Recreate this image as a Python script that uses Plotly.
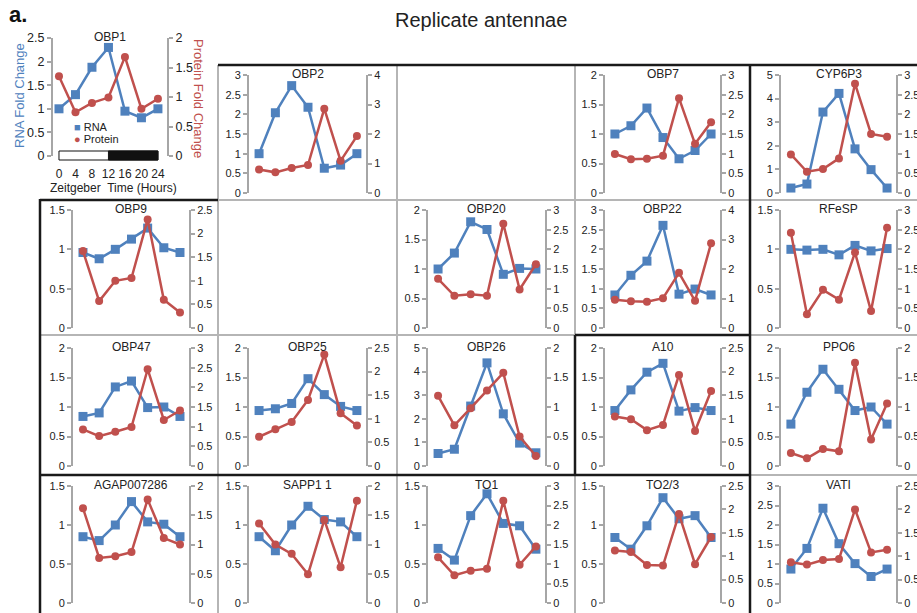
import plotly.graph_objects as go

W, H = 917, 613

# ---------------- data ----------------
hours = [0, 4, 8, 12, 16, 20, 24]
hour_labels = ["0", "4", "8", "12", "16", "20", "24"]

gene_names = ["OBP1", "OBP2", "OBP7", "CYP6P3", "OBP9", "OBP20", "OBP22", "RFeSP",
              "OBP47", "OBP25", "OBP26", "A10", "PPO6", "AGAP007286", "SAPP1 1",
              "TO1", "TO2/3", "VATI"]

rna_obp1 = [1.00, 1.30, 1.88, 2.30, 0.95, 0.81, 1.00]
prot_obp1 = [1.35, 0.74, 0.90, 0.99, 1.68, 0.80, 0.97]
rna_obp2 = [1.00, 2.04, 2.73, 2.18, 0.63, 0.71, 1.00]
prot_obp2 = [0.80, 0.70, 0.85, 0.95, 2.86, 1.09, 1.93]
rna_obp7 = [1.00, 1.14, 1.44, 0.94, 0.58, 0.72, 1.00]
prot_obp7 = [0.99, 0.86, 0.87, 0.95, 2.41, 1.25, 1.80]
rna_cyp6p3 = [0.21, 0.38, 3.43, 4.22, 1.87, 0.99, 0.21]
prot_cyp6p3 = [0.98, 0.54, 0.61, 0.88, 2.78, 1.50, 1.43]
rna_obp9 = [0.96, 0.88, 1.00, 1.13, 1.27, 1.02, 0.96]
prot_obp9 = [1.63, 0.57, 1.00, 1.06, 2.30, 0.60, 0.33]
rna_obp20 = [1.00, 1.27, 1.80, 1.67, 0.91, 1.01, 1.00]
prot_obp20 = [1.25, 0.82, 0.86, 0.82, 2.65, 0.98, 1.62]
rna_obp22 = [0.84, 1.34, 1.70, 2.61, 0.86, 0.99, 0.84]
prot_obp22 = [0.96, 0.91, 0.89, 1.01, 1.87, 0.92, 2.87]
rna_rfesp = [1.00, 0.99, 1.00, 0.93, 1.05, 0.98, 1.01]
prot_rfesp = [2.42, 0.35, 0.97, 0.72, 1.92, 0.43, 2.55]
rna_obp47 = [0.84, 0.90, 1.34, 1.44, 0.99, 1.00, 0.84]
prot_obp47 = [0.93, 0.76, 0.87, 0.99, 2.46, 1.17, 1.41]
rna_obp25 = [0.94, 0.97, 1.06, 1.48, 1.21, 1.01, 0.94]
prot_obp25 = [0.62, 0.78, 0.93, 1.40, 2.36, 1.12, 0.86]
rna_obp26 = [0.53, 0.71, 2.54, 4.37, 2.21, 0.97, 0.56]
prot_obp26 = [1.19, 0.69, 0.98, 1.28, 1.58, 0.50, 0.17]
rna_a10 = [0.94, 1.29, 1.59, 1.74, 0.93, 0.99, 0.94]
prot_a10 = [1.05, 0.99, 0.76, 0.87, 1.93, 0.74, 1.59]
rna_ppo6 = [0.71, 1.25, 1.64, 1.30, 0.94, 1.00, 0.71]
prot_ppo6 = [0.22, 0.13, 0.29, 0.25, 1.75, 0.45, 1.06]
rna_agap007286 = [0.85, 0.80, 1.00, 1.30, 1.04, 1.01, 0.85]
prot_agap007286 = [1.62, 0.77, 0.80, 0.87, 1.77, 1.11, 1.00]
rna_sapp1 = [0.85, 0.67, 1.00, 1.24, 1.07, 1.04, 0.85]
prot_sapp1 = [1.36, 1.00, 0.84, 0.49, 1.42, 0.61, 1.75]
rna_to1 = [0.70, 0.55, 1.12, 1.40, 1.02, 0.99, 0.69]
prot_to1 = [1.17, 0.71, 0.83, 0.88, 2.62, 0.98, 1.45]
rna_to23 = [0.84, 0.69, 0.99, 1.35, 1.08, 1.12, 0.84]
prot_to23 = [1.12, 1.09, 0.81, 0.80, 1.90, 0.83, 1.41]
rna_vati = [0.87, 1.40, 2.43, 1.52, 1.01, 0.68, 0.87]
prot_vati = [0.87, 0.82, 0.92, 0.94, 2.00, 1.08, 1.14]

rna_axis_max = [2.5, 3, 2, 5, 1.5, 2, 3, 1.5, 2, 2, 5, 2, 2, 1.5, 1.5, 1.5, 1.5, 3]
prot_axis_max = [2, 4, 3, 3, 2.5, 3, 4, 3, 3, 2.5, 2, 2.5, 2, 2, 2, 3, 2.5, 2.5]

rna_series = [rna_obp1, rna_obp2, rna_obp7, rna_cyp6p3, rna_obp9, rna_obp20, rna_obp22,
              rna_rfesp, rna_obp47, rna_obp25, rna_obp26, rna_a10, rna_ppo6,
              rna_agap007286, rna_sapp1, rna_to1, rna_to23, rna_vati]
prot_series = [prot_obp1, prot_obp2, prot_obp7, prot_cyp6p3, prot_obp9, prot_obp20,
               prot_obp22, prot_rfesp, prot_obp47, prot_obp25, prot_obp26, prot_a10,
               prot_ppo6, prot_agap007286, prot_sapp1, prot_to1, prot_to23, prot_vati]

# ---------------- layout geometry (pixels) ----------------
grid_pos = [None, (0, 1), (0, 3), (0, 4), (1, 0), (1, 2), (1, 3), (1, 4),
            (2, 0), (2, 1), (2, 2), (2, 3), (2, 4), (3, 0), (3, 1), (3, 2), (3, 3), (3, 4)]
col_lr = [(73, 189), (249, 366), (428, 545), (605, 720), (781, 896)]
row_tb = [(75, 193), (210, 328), (348, 466), (486, 603)]

BLUE = "#4f81bd"
RED = "#c0504d"
AX = "#a6a6a6"
TXT = "#222222"
FONT = "Liberation Sans, Arial, sans-serif"


def px(x):
    return x / W


def py(y):
    return 1 - y / H


fig = go.Figure()
lay = {}
annotations = []

for i, name in enumerate(gene_names):
    k = i + 1
    xid = "x" if k == 1 else f"x{k}"
    yl = 2 * k - 1
    yr = 2 * k
    ylid = "y" if yl == 1 else f"y{yl}"
    yrid = f"y{yr}"
    xkey = "xaxis" if k == 1 else f"xaxis{k}"
    ylkey = "yaxis" if yl == 1 else f"yaxis{yl}"
    yrkey = f"yaxis{yr}"

    if grid_pos[i] is None:
        L, R, T, B = 53, 167, 38, 156
        xr = [-1.45, 26.2]
        fs = 12.5
    else:
        r, c = grid_pos[i]
        L, R = col_lr[c]
        T, B = row_tb[r]
        xr = [-2.47, 26.23]
        fs = 11

    xa = dict(domain=[px(L), px(R)], range=xr, anchor=ylid, showgrid=False,
              zeroline=False, showline=False, ticks="", fixedrange=True,
              automargin=False, showticklabels=False)
    if grid_pos[i] is None:
        xa.update(showticklabels=True, tickvals=hours, ticktext=hour_labels,
                  tickfont=dict(size=12, color=TXT, family=FONT), ticklabelstandoff=9)
    lay[xkey] = xa

    common = dict(showgrid=False, zeroline=False, showline=True, linecolor=AX,
                  linewidth=2, ticks="outside", ticklen=4, tickwidth=1.5,
                  tickcolor=AX, tickfont=dict(size=fs, color=TXT, family=FONT),
                  fixedrange=True, automargin=False, tick0=0)
    lm = rna_axis_max[i]
    rm = prot_axis_max[i]
    lay[ylkey] = dict(common, domain=[py(B), py(T)], range=[0, lm], anchor=xid,
                      side="left", dtick=1 if lm >= 4 else 0.5)
    lay[yrkey] = dict(common, range=[0, rm], anchor=xid, overlaying=ylid,
                      side="right", dtick=1 if rm >= 4 else 0.5)

    fig.add_trace(go.Scatter(x=hours, y=rna_series[i], xaxis=xid, yaxis=ylid,
                             mode="lines+markers", name="RNA", showlegend=False,
                             line=dict(color=BLUE, width=2.5),
                             marker=dict(symbol="square", size=9, color=BLUE),
                             cliponaxis=False))
    fig.add_trace(go.Scatter(x=hours, y=prot_series[i], xaxis=xid, yaxis=yrid,
                             mode="lines+markers", name="Protein", showlegend=False,
                             line=dict(color=RED, width=2.5),
                             marker=dict(symbol="circle", size=8, color=RED),
                             cliponaxis=False))

    annotations.append(dict(text=name, x=px((L + R) / 2), y=py(T - 1), xref="paper",
                            yref="paper", xanchor="center", yanchor="middle",
                            showarrow=False, font=dict(size=12, color=TXT, family=FONT)))

# ---------------- texts ----------------
annotations += [
    dict(text="<b>a.</b>", x=px(7), y=py(14), xanchor="left", yanchor="middle",
         font=dict(size=22, color="#111", family=FONT)),
    dict(text="Replicate antennae", x=px(481), y=py(20), xanchor="center", yanchor="middle",
         font=dict(size=20, color="#222", family=FONT)),
    dict(text="RNA Fold Change", x=px(20), y=py(96), textangle=-90, xanchor="center",
         yanchor="middle", font=dict(size=13, color=BLUE, family=FONT)),
    dict(text="Protein Fold Change", x=px(199), y=py(98), textangle=90, xanchor="center",
         yanchor="middle", font=dict(size=13, color=RED, family=FONT)),
    dict(text="Zeitgeber  Time (Hours)", x=px(113), y=py(188), xanchor="center",
         yanchor="middle", font=dict(size=12, color=TXT, family=FONT)),
    dict(text=f'<span style="color:{BLUE}">■</span> RNA', x=px(73), y=py(127),
         xanchor="left", yanchor="middle", borderpad=0,
         font=dict(size=11, color=TXT, family=FONT)),
    dict(text=f'<span style="color:{RED}">●</span> Protein', x=px(73), y=py(139),
         xanchor="left", yanchor="middle", borderpad=0,
         font=dict(size=11, color=TXT, family=FONT)),
]
for a in annotations:
    a.setdefault("xref", "paper")
    a.setdefault("yref", "paper")
    a.setdefault("showarrow", False)

# ---------------- shapes: light/dark bar and panel borders ----------------
shapes = [
    dict(type="rect", xref="x", yref="paper", x0=0, x1=24, y0=py(160), y1=py(151),
         fillcolor="white", line=dict(color="#111", width=1)),
    dict(type="rect", xref="x", yref="paper", x0=12, x1=24, y0=py(160), y1=py(151),
         fillcolor="#111", line=dict(color="#111", width=1)),
]

GRAY = "#b5b5b5"
BLACK = "#1a1a1a"
gray_lines = [
    (218, 65, 218, 613), (397, 65, 397, 613), (575, 65, 575, 613),
    (218, 200, 917, 200), (40, 335, 917, 335), (750, 475, 917, 475),
]
black_lines = [
    (218, 65, 917, 65), (750, 65, 750, 613), (40, 199, 40, 613), (40, 200, 218, 200),
    (40, 475, 750, 475), (575, 335, 750, 335), (575, 335, 575, 475),
]
for (x0, y0, x1, y1) in gray_lines:
    shapes.append(dict(type="line", xref="paper", yref="paper", x0=px(x0), y0=py(y0),
                       x1=px(x1), y1=py(y1), line=dict(color=GRAY, width=2), layer="below"))
for (x0, y0, x1, y1) in black_lines:
    shapes.append(dict(type="line", xref="paper", yref="paper", x0=px(x0), y0=py(y0),
                       x1=px(x1), y1=py(y1), line=dict(color=BLACK, width=2.5), layer="below"))

fig.update_layout(
    template="none",
    width=W, height=H,
    margin=dict(l=0, r=0, t=0, b=0),
    paper_bgcolor="white", plot_bgcolor="rgba(0,0,0,0)",
    showlegend=False,
    font=dict(family=FONT, color=TXT),
    annotations=annotations,
    shapes=shapes,
    **lay,
)

fig.write_html(
    "out.html",
    config={"displayModeBar": False},
    post_script="document.body.style.margin='0';document.body.style.padding='0';"
                "document.body.style.overflow='hidden';",
)
